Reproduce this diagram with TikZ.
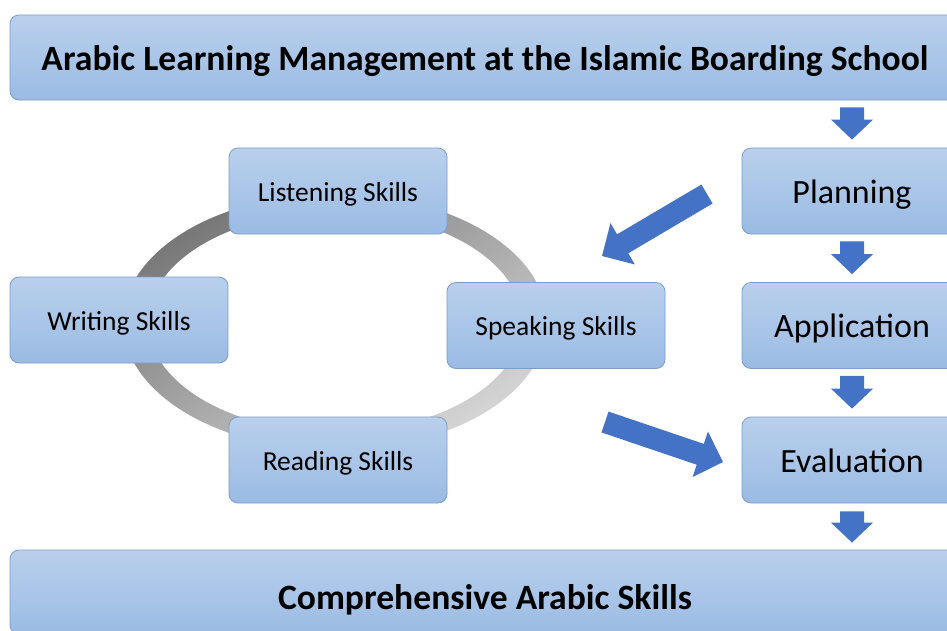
\documentclass[tikz,border=0pt]{standalone}
\usepackage{fontspec}
\setmainfont{Carlito}
\usetikzlibrary{calc}

\definecolor{boxtop}{HTML}{B9D0EC}
\definecolor{boxbot}{HTML}{9BBBE4}
\definecolor{boxline}{HTML}{7C9DC8}
\definecolor{arrowblue}{HTML}{4472C4}
\definecolor{ringdark}{HTML}{767676}
\definecolor{ringlight}{HTML}{D6D6D6}

% block arrow: from, to, shaft half width, head half width, head length
\newcommand{\blockarr}[5]{%
  \path ($(#2)!#5!(#1)$) coordinate (hb);
  \fill[arrowblue] ($(#1)!#3!90:(#2)$) -- ($(hb)!#3!90:(#2)$) -- ($(hb)!#4!90:(#2)$)
    -- (#2) -- ($(hb)!#4!-90:(#2)$) -- ($(hb)!#3!-90:(#2)$) -- ($(#1)!#3!-90:(#2)$) -- cycle;
}

\begin{document}
\begin{tikzpicture}[x=1pt,y=-1pt,
    box/.style={draw=boxline, line width=0.8pt, rounded corners=9pt,
      top color=boxtop, bottom color=boxbot, text=black, inner sep=0pt, text depth=2pt},
    skill/.style={box, minimum width=218pt, minimum height=86pt, text height=22pt,
      font=\fontsize{27.5}{30}\selectfont},
    stage/.style={box, minimum width=220pt, minimum height=86pt, text height=26pt,
      font=\fontsize{34}{38}\selectfont},
    banner/.style={box, minimum width=950pt, minimum height=85pt, text height=27pt,
      font=\fontsize{35.6}{38}\selectfont\bfseries}]
  \useasboundingbox (0,0) rectangle (947,630);
  \fill[white] (0,0) rectangle (947,630);
  \clip (0,0) rectangle (947,630);

  % the ring of skills
  \shade[even odd rule, left color=ringdark, right color=ringlight, shading angle=30]
    (335,322) ellipse [x radius=212pt, y radius=128pt]
    (335,322) ellipse [x radius=187pt, y radius=110pt];

  \node[skill] (listen) at (338,191) {Listening Skills};
  \node[skill] (speak) at (556,325.5) {Speaking Skills};
  \node[skill] (read) at (338,460) {Reading Skills};
  \node[skill] (write) at (119,320) {Writing Skills};

  % management steps
  \node[banner] (title) at (485,57.5) {Arabic Learning Management at the Islamic Boarding School};
  \node[stage] (plan) at (852,191) {Planning};
  \node[stage] (app) at (852,325.5) {Application};
  \node[stage] (eval) at (852,460) {Evaluation};
  \node[banner, minimum height=84pt, text height=36pt] (goal) at (485,592) {Comprehensive Arabic Skills};

  \coordinate (d1) at ($(title.south -| plan.north)+(0,7)$);
  \coordinate (d1t) at ($(plan.north)+(0,-8)$);
  \coordinate (d2) at ($(plan.south)+(0,7)$);
  \coordinate (d2t) at ($(app.north)+(0,-8)$);
  \coordinate (d3) at ($(app.south)+(0,7)$);
  \coordinate (d3t) at ($(eval.north)+(0,-8)$);
  \coordinate (d4) at ($(eval.south)+(0,8)$);
  \coordinate (d4t) at ($(goal.north -| eval.south)+(0,-7)$);
  \blockarr{d1}{d1t}{12pt}{21pt}{20pt}
  \blockarr{d2}{d2t}{12pt}{21pt}{20pt}
  \blockarr{d3}{d3t}{12pt}{21pt}{20pt}
  \blockarr{d4}{d4t}{12pt}{21pt}{20pt}

  % into and out of the ring
  \coordinate (inA) at (707,194);
  \coordinate (inB) at (602,256);
  \coordinate (outA) at (605,422);
  \coordinate (outB) at (723,462);
  \blockarr{inA}{inB}{11pt}{24pt}{24pt}
  \blockarr{outA}{outB}{11pt}{24pt}{24pt}
\end{tikzpicture}
\end{document}
